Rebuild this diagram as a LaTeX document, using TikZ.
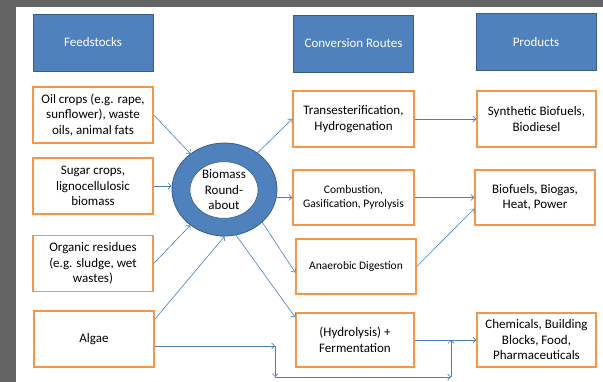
\documentclass[tikz,border=0pt]{standalone}
\usepackage{fontspec}
\setmainfont{Carlito}
\usetikzlibrary{arrows.meta,shapes.geometric}

\definecolor{hdrblue}{RGB}{79,129,189}
\definecolor{hdredge}{RGB}{56,93,138}
\definecolor{boxorange}{RGB}{247,150,70}
\definecolor{flowblue}{RGB}{74,126,187}
\definecolor{framegray}{RGB}{100,100,100}

\tikzset{
  header/.style={draw=hdredge, line width=0.8pt, fill=hdrblue, text=white,
    minimum width=120pt, minimum height=57pt, font=\fontsize{13}{15.5}\selectfont},
  item/.style={draw=boxorange, line width=1.5pt, fill=white, align=center, inner sep=2pt,
    minimum width=120pt, minimum height=56pt, font=\fontsize{13}{15.5}\selectfont},
  small/.style={font=\fontsize{11.5}{14}\selectfont},
  flow/.style={draw=flowblue, line width=0.6pt, -{Straight Barb[length=3pt,width=6pt]}}
}

\begin{document}
\begin{tikzpicture}[x=1pt, y=-1pt]

% Frame
\useasboundingbox (0,0) rectangle (603,382);
\fill[framegray] (0,0) rectangle (603,382);
\fill[white] (16,7) rectangle (603,382);

% Headers
\node[header] (feed) at (93,42.5) {Feedstocks};
\node[header] (conv) at (353.5,43.5) {Conversion Routes};
\node[header] (prod) at (536,42) {Products};

% Feedstocks
\node[item] (oil) at (93,115) {Oil crops (e.g. rape,\\sunflower), waste\\oils, animal fats};
\node[item] (sugar) at (93,186) {Sugar crops,\\lignocellulosic\\biomass};
\node[item] (organic) at (93,263.5) {Organic residues\\(e.g. sludge, wet\\wastes)};
\node[item] (algae) at (94,339) {Algae};

% Roundabout
\node[ellipse, draw=hdredge, fill=hdrblue, line width=0.8pt, inner sep=0pt,
  minimum width=105pt, minimum height=93pt] (hub) at (224.5,189.5) {};
\node[ellipse, draw=hdredge, fill=white, line width=0.6pt, inner sep=0pt, align=center,
  minimum width=68pt, minimum height=54pt, font=\fontsize{13}{15.5}\selectfont] (core) at (224,190)
  {Biomass\\Round-\\about};

% Conversion routes
\node[item, minimum width=121pt] (trans) at (353.5,119) {Transesterification,\\Hydrogenation};
\node[item, small, minimum width=121pt, minimum height=55pt] (comb) at (353.5,197.5) {Combustion,\\Gasification, Pyrolysis};
\node[item, small, minimum height=55pt] (anaer) at (356,266.5) {Anaerobic Digestion};
\node[item, minimum width=118pt, minimum height=54pt] (hydro) at (355,340) {(Hydrolysis) +\\Fermentation};

% Products
\node[item, minimum width=119pt] (synth) at (536.5,119) {Synthetic Biofuels,\\Biodiesel};
\node[item, minimum height=55pt] (biofuel) at (535,197.5) {Biofuels, Biogas,\\Heat, Power};
\node[item, minimum width=119pt, minimum height=54pt] (chem) at (536.5,340) {Chemicals, Building\\Blocks, Food,\\Pharmaceuticals};

% Into the roundabout
\draw[flow] (oil.east) -- (hub);
\draw[flow] (sugar.east) -- (sugar.east -| hub.west);
\draw[flow] (organic.east) -- (hub);
\draw[flow] ([yshift=-9pt]algae.north east) -- (hub.south);

% Out of the roundabout
\draw[flow] (hub.48) -- (trans.west);
\draw[flow] (comb.west -| hub.east) -- (comb.west);
\draw[flow] (hub.-41) -- ([yshift=-6pt]anaer.west);
\draw[flow] (core.south) -- ([yshift=-5pt]hydro.north west);

% To products
\draw[flow] (trans.east) -- (synth.west);
\draw[flow] (comb.east) -- (biofuel.west);
\draw[flow] (anaer.east) -- ([yshift=17pt]biofuel.south west);
\draw[flow] (hydro.east) -- (chem.west);

% Algae by-pass
\coordinate (turnA) at (275,346);
\coordinate (turnB) at (275,377);
\coordinate (turnC) at (451,377);
\coordinate (turnD) at (turnC |- chem.west);
\draw[flow] ([yshift=-7pt]algae.east) -- (turnA);
\draw[flow] (turnA) -- (turnB);
\draw[flow] (turnB) -- (turnC);
\draw[flow] (turnC) -- (turnD);

\end{tikzpicture}
\end{document}
